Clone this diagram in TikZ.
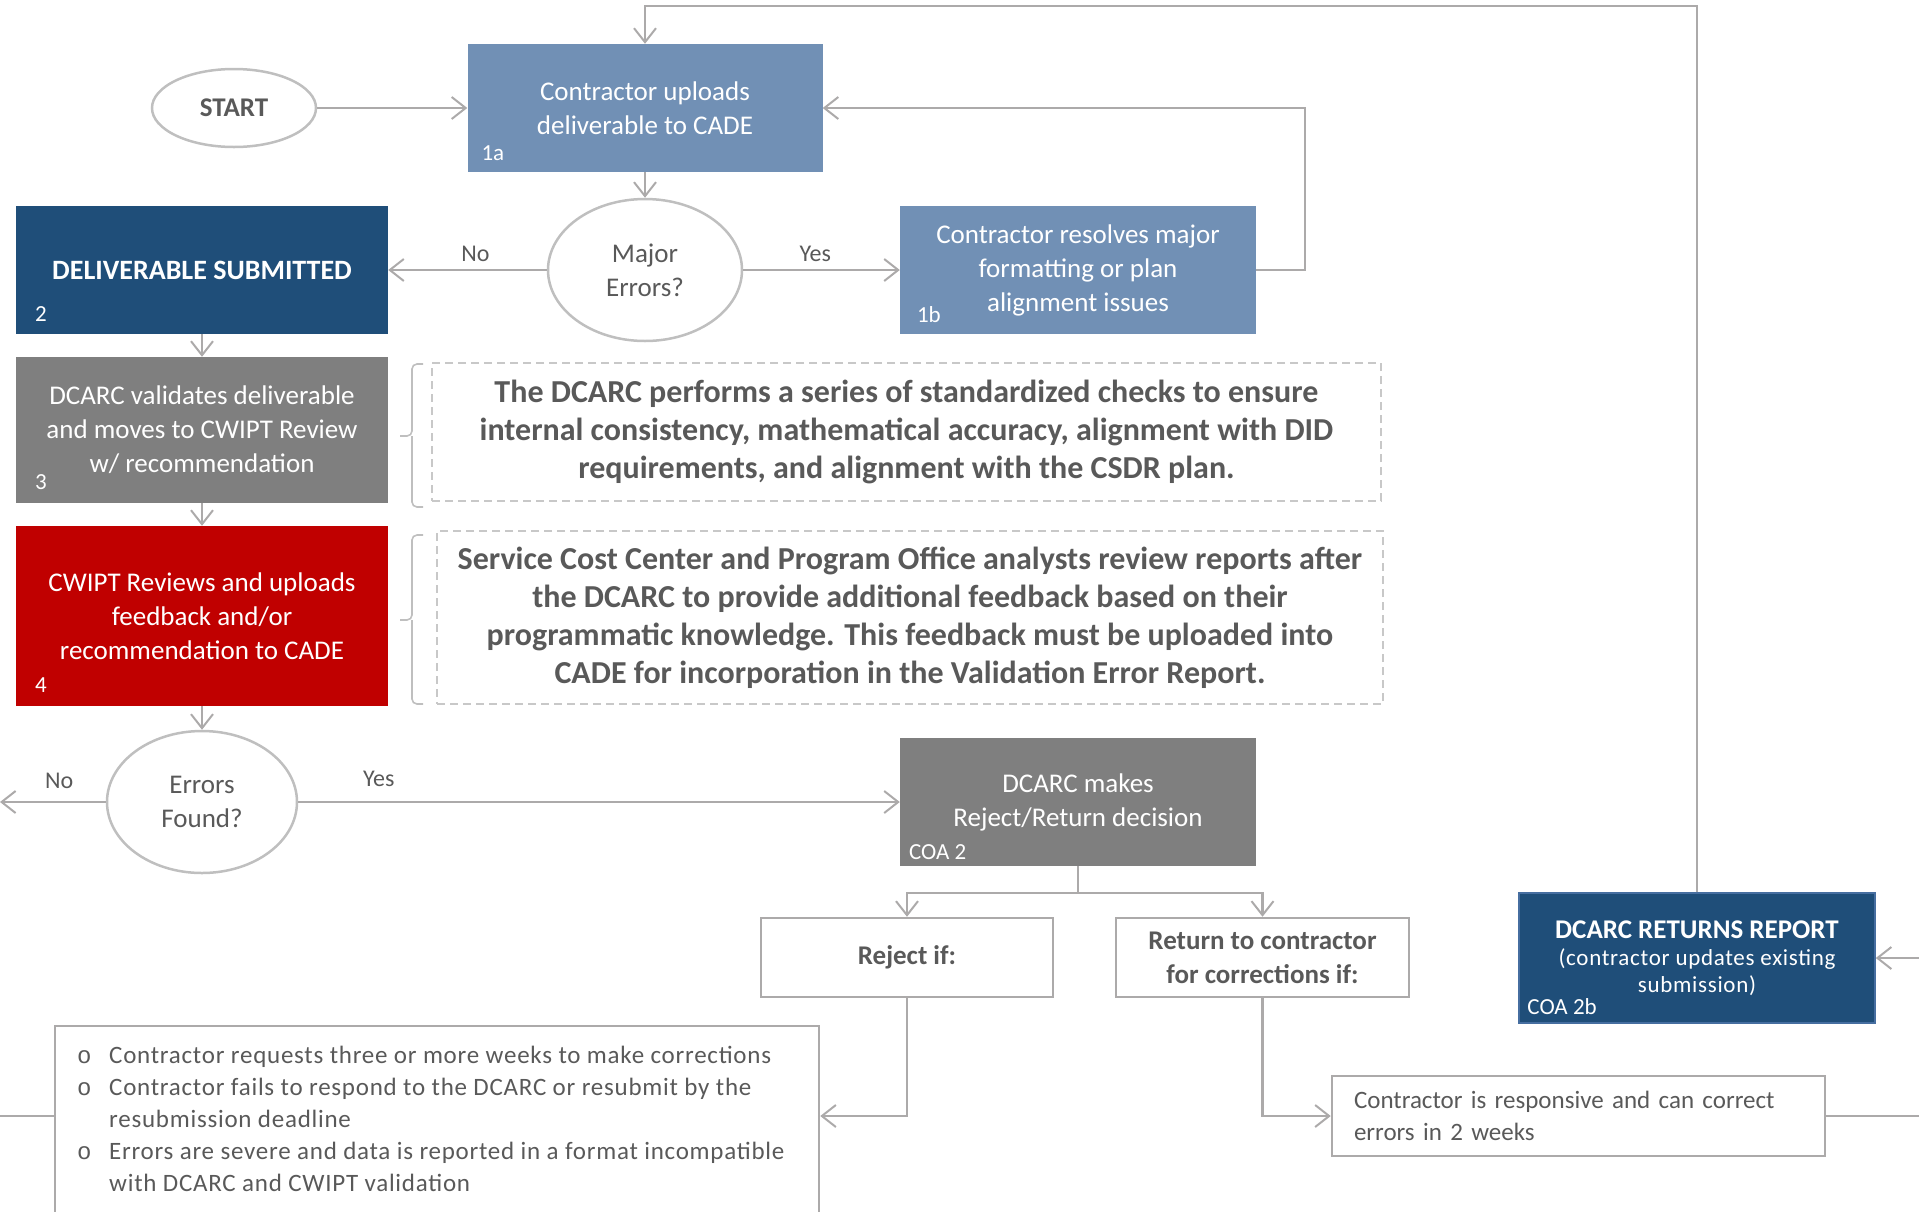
\documentclass[tikz,border=0pt]{standalone}
\usepackage{fontspec}
\setmainfont{Carlito}
\newfontfamily\bulletfont{Liberation Mono}
\newfontfamily\spacedfont[LetterSpace=3]{Carlito}
\usetikzlibrary{arrows.meta,calc,shapes.geometric}
\definecolor{lnc}{RGB}{172,170,170}
\definecolor{steel}{RGB}{113,144,181}
\definecolor{navy}{RGB}{31,78,121}
\definecolor{navyedge}{RGB}{70,110,160}
\definecolor{midgray}{RGB}{127,127,127}
\definecolor{dred}{RGB}{192,0,0}
\definecolor{txtg}{RGB}{89,89,89}
\definecolor{dashc}{RGB}{200,200,200}
\definecolor{brc}{RGB}{191,191,191}
\newcommand\mybul{{\bulletfont\fontsize{24}{24}\selectfont o}}
\tikzset{
 fbox/.style={rectangle, inner sep=0pt, text=white, align=center, font=\fontsize{27}{34}\selectfont},
 arr/.style={draw=lnc, line width=2.5pt, -{Straight Barb[length=14pt,width=22pt,line width=2pt]}},
 ln/.style={draw=lnc, line width=2.5pt},
 ell/.style={ellipse, draw=brc, line width=2.5pt, inner sep=0pt, text=txtg, align=center, font=\fontsize{27}{34}\selectfont},
 obox/.style={rectangle, draw=lnc, line width=2.5pt, inner sep=0pt, text=txtg, align=center},
 dbox/.style={rectangle, draw=dashc, line width=1.6pt, dash pattern=on 8pt off 5pt, inner sep=0pt, text=txtg, align=center, font=\bfseries\fontsize{32}{38}\selectfont},
 tag/.style={anchor=base west, inner sep=0pt, text=white, font=\fontsize{23}{23}\selectfont},
 yn/.style={text=txtg, font=\fontsize{24}{24}\selectfont, inner sep=0pt},
 brace/.style={draw=brc, line width=1.6pt, rounded corners=5pt},
}
\begin{document}
\begin{tikzpicture}[x=1pt,y=-1pt]
\path[use as bounding box] (0,0) rectangle (1919,1211);
\clip (0,0) rectangle (1919,1211);

% nodes
\node[ell, font=\bfseries\fontsize{27}{34}\selectfont, minimum width=164, minimum height=78] (start) at (234,108) {START};
\node[fbox, fill=steel, minimum width=355, minimum height=128] (a1) at (645,108) {Contractor uploads\\deliverable to CADE};
\node[ell, minimum width=194, minimum height=142] (major) at (645,270) {Major\\Errors?};
\node[fbox, fill=steel, minimum width=356, minimum height=128] (b1) at (1078,270) {Contractor resolves major\\formatting or plan\\alignment issues};
\node[fbox, fill=navy, minimum width=372, minimum height=128, font=\bfseries\fontsize{28}{34}\selectfont] (b2) at (202,270) {DELIVERABLE SUBMITTED};
\node[fbox, fill=midgray, minimum width=372, minimum height=146] (b3) at (202,430) {DCARC validates deliverable\\and moves to CWIPT Review\\w/ recommendation};
\node[fbox, fill=dred, minimum width=372, minimum height=180] (b4) at (202,616) {CWIPT Reviews and uploads\\feedback and/or\\recommendation to CADE};
\node[ell, minimum width=190, minimum height=142] (errors) at (202,802) {Errors\\Found?};
\node[fbox, fill=midgray, minimum width=356, minimum height=128] (coa2) at (1078,802) {DCARC makes\\Reject/Return decision};
\node[obox, minimum width=292, minimum height=79, font=\bfseries\fontsize{27}{34}\selectfont] (reject) at (907,957.5) {Reject if:};
\node[obox, minimum width=293, minimum height=79, font=\bfseries\fontsize{27}{34}\selectfont] (return) at (1262.5,957.5) {Return to contractor\\for corrections if:};
\node[obox, minimum width=764, minimum height=240] (bullets) at (437,1146) {};
\node[anchor=north west, inner sep=0pt, align=left, text=txtg, font=\spacedfont\fontsize{25}{32}\selectfont] (btext) at (77,1046)
 {\makebox[32pt][l]{\mybul}Contractor requests three or more weeks to make corrections\\
  \makebox[32pt][l]{\mybul}Contractor fails to respond to the DCARC or resubmit by the\\
  \hspace*{32pt}resubmission deadline\\
  \makebox[32pt][l]{\mybul}Errors are severe and data is reported in a format incompatible\\
  \hspace*{32pt}with DCARC and CWIPT validation};
\node[obox, minimum width=493, minimum height=80, align=left, text width=449pt, inner xsep=22pt, font=\fontsize{25}{32}\selectfont] (resp) at (1578.5,1116) {Contractor is responsive and can correct\\errors in 2 weeks};
\node[fbox, fill=navy, draw=navyedge, line width=1.5pt, minimum width=356, minimum height=130, font=\spacedfont\fontsize{23}{27}\selectfont] (ret) at (1697,958) {{\normalfont\bfseries\fontsize{27}{32}\selectfont DCARC RETURNS REPORT}\\(contractor updates existing\\submission)};
\node[dbox, minimum width=949, minimum height=138] (d1) at (906.5,432) {The DCARC performs a series of standardized checks to ensure\\internal consistency, mathematical accuracy, alignment with DID\\requirements, and alignment with the CSDR plan.};
\node[dbox, minimum width=946, minimum height=173] (d2) at (910,617.5) {Service Cost Center and Program Office analysts review reports after\\the DCARC to provide additional feedback based on their\\programmatic knowledge. This feedback must be uploaded into\\CADE for incorporation in the Validation Error Report.};

% tags
\node[tag] (t1a) at ($(a1.south west)+(14,-12)$) {1a};
\node[tag] (t1b) at ($(b1.south west)+(17,-12)$) {1b};
\node[tag] (t2) at ($(b2.south west)+(19,-13)$) {2};
\node[tag] (t3) at ($(b3.south west)+(19,-14)$) {3};
\node[tag] (t4) at ($(b4.south west)+(19,-14)$) {4};
\node[tag] (tc2) at ($(coa2.south west)+(9,-7)$) {COA 2};
\node[tag] (tc2b) at ($(ret.south west)+(9,-9)$) {COA 2b};

% braces
\draw[brace] (423,364) -| (412,436) -- (400,436);
\draw[brace] (423,507) -| (412,436);
\draw[brace] (423,535) -| (412,620) -- (400,620);
\draw[brace] (423,704) -| (412,620);

% coordinates
\coordinate (top) at (645,6);
\coordinate (lout) at (0,802);
\coordinate (split) at (1078,893);
\coordinate (bl) at (0,1116);
\coordinate (rr) at (1919,1116);
\coordinate (rin) at (1919,958);

% connectors
\draw[arr] (start) -- (a1);
\draw[arr] (ret.north) |- (top) -- (a1.north);
\draw[arr] (b1.east) -- ++(49,0) |- (a1.east);
\draw[arr] (a1.south) -- (major.north);
\draw[arr] (major.west) -- node[yn, above=7pt, pos=0.45] {No} (b2.east);
\draw[arr] (major.east) -- node[yn, above=7pt, pos=0.46] {Yes} (b1.west);
\draw[arr] (b2.south) -- (b3.north);
\draw[arr] (b3.south) -- (b4.north);
\draw[arr] (b4.south) -- (errors.north);
\draw[arr] (errors.west) -- node[yn, above=12pt, pos=0.44] {No} (lout);
\draw[arr] (errors.east) -- node[yn, above=14pt, pos=0.134] {Yes} (coa2.west);
\draw[ln] (coa2.south) -- (split);
\draw[arr] (split) -| (reject.north);
\draw[arr] (split) -| (return.north);
\draw[arr] (reject.south) |- ([yshift=30pt]bullets.east);
\draw[ln] ([yshift=30pt]bullets.west) -- (bl);
\draw[arr] (return.south) |- (resp.west);
\draw[ln] (resp.east) -- (rr);
\draw[arr] (rin) -- (ret.east);
\end{tikzpicture}
\end{document}
